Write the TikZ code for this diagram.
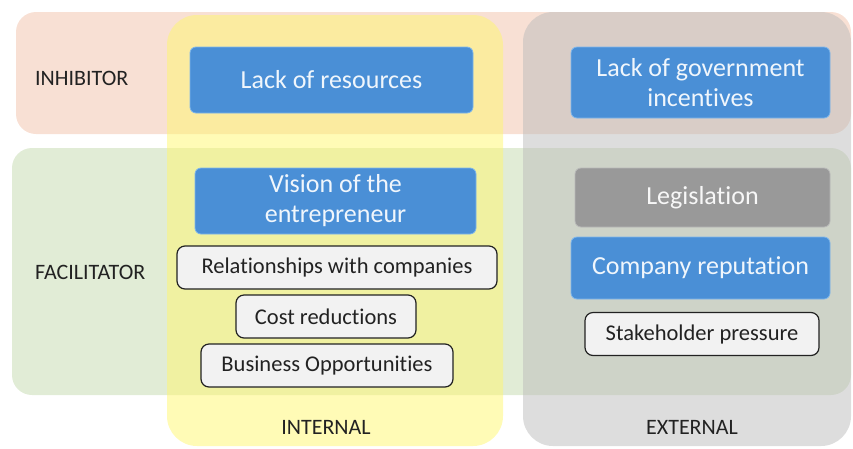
\documentclass[tikz,border=0pt]{standalone}
\usepackage{fontspec}
\setmainfont{Carlito}[Ligatures=NoCommon]
\usepackage{tikz}
\usetikzlibrary{positioning}
\definecolor{bandpink}{RGB}{248,224,212}
\definecolor{bandgreen}{RGB}{225,236,214}
\definecolor{colyellow}{RGB}{255,247,110}
\definecolor{colgrey}{RGB}{188,188,188}
\definecolor{boxblue}{RGB}{74,143,214}
\definecolor{boxedge}{RGB}{125,182,236}
\definecolor{boxgrey}{RGB}{153,153,153}
\definecolor{ink}{RGB}{34,34,34}
\tikzstyle{band}=[rectangle, rounded corners=20pt, inner sep=0pt]
\tikzstyle{column}=[rectangle, rounded corners=30pt, inner sep=0pt, fill opacity=0.5]
\tikzstyle{bluebox}=[rectangle, rounded corners=6pt, fill=boxblue, draw=boxedge, line width=0.8pt, text=white!92!boxblue, align=center, font=\fontsize{26}{30}\selectfont]
\tikzstyle{greybox}=[bluebox, fill=boxgrey, draw=boxgrey!70!white, text=white!92!boxgrey]
\tikzstyle{whitebox}=[rectangle, rounded corners=8pt, fill=white!95!black, draw=ink, line width=1.2pt, text=ink, minimum height=43pt, font=\fontsize{22.5}{26}\selectfont]
\tikzstyle{rowlabel}=[text=ink, inner sep=0pt, font=\fontsize{22}{25}\selectfont]

\begin{document}
\begin{tikzpicture}[x=1pt, y=-1pt]
	\useasboundingbox (0,0) rectangle (853,448);
	\node[band, fill=bandpink, minimum width=835pt, minimum height=122pt] (inh) at (433.5,73) {};
	\node[band, fill=bandgreen, minimum width=839pt, minimum height=247pt] (fac) at (431.5,271.5) {};
	\node[column, fill=colyellow, minimum width=336pt, minimum height=431pt] (int) at (335,230.5) {};
	\node[column, fill=colgrey, minimum width=328pt, minimum height=434pt] (ext) at (687,229) {};

	\node[rowlabel, anchor=west] (inhl) at (35,78) {INHIBITOR};
	\node[rowlabel, anchor=west] (facl) at (35,272) {FACILITATOR};
	\node[rowlabel] (intl) at (326,427) {INTERNAL};
	\node[rowlabel] (extl) at (692,427) {EXTERNAL};

	\node[bluebox, minimum width=283pt, minimum height=66pt] (res) at (331.5,80) {Lack of resources};
	\node[bluebox, minimum width=259pt, minimum height=71pt] (gov) at (700.5,82.5) {Lack of government\\incentives};
	\node[bluebox, minimum width=281pt, minimum height=66pt] (vis) at (335.5,201) {Vision of the\\entrepreneur};
	\node[greybox, minimum width=255pt, minimum height=59pt] (leg) at (702.5,197.5) {Legislation};
	\node[bluebox, minimum width=259pt, minimum height=62pt] (rep) at (700.5,268) {Company reputation};

	\node[whitebox, minimum width=320pt] (rel) at (337,267.5) {Relationships with companies};
	\node[whitebox, minimum width=180pt] (cost) at (326,316.5) {Cost reductions};
	\node[whitebox, minimum width=252pt] (bus) at (327,365.5) {Business Opportunities};
	\node[whitebox, minimum width=234pt] (stk) at (702,334) {Stakeholder pressure};
\end{tikzpicture}
\end{document}
